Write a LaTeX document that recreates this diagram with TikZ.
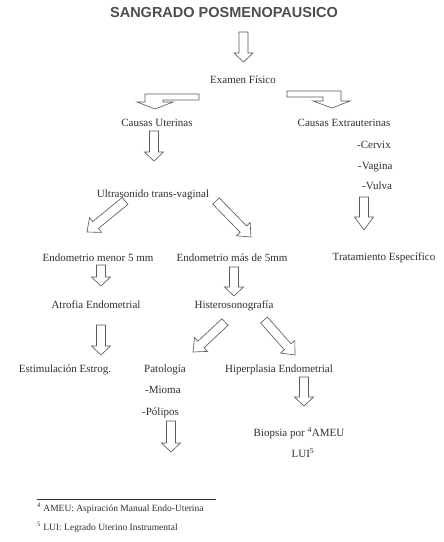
\documentclass[tikz,border=0pt]{standalone}
\usepackage{fontspec}
\setmainfont{Liberation Serif}
\newfontfamily\headfont{Liberation Sans}
\usepackage{tikz}
\usetikzlibrary{
  calc
}
\definecolor{spInk}{HTML}{2E2E2E}
\definecolor{spLine}{HTML}{5C5C5C}
\tikzset{
  sptext/.style={font=\fontsize{11}{13}\selectfont, text=spInk, inner sep=0pt, anchor=base},
  splist/.style={sptext, anchor=base west},
  spnote/.style={font=\fontsize{9.5}{11}\selectfont, text=spInk, inner sep=0pt, anchor=base west},
  sptitle/.style={font=\headfont\bfseries\fontsize{14.5}{16}\selectfont, text=spInk!85, inner sep=0pt, anchor=base},
  hollow/.style={draw=spLine, line width=0.65pt, line join=miter, fill=white},
  rule/.style={draw=spInk, line width=0.8pt}
}
% hollow block arrow from #2 (tail) to #3 (tip), head length #1
\newcommand{\blockarrow}[3][9pt]{%
  \path ($(#3)!#1!(#2)$) coordinate (hb);
  \draw[hollow] ($(#2)!4.5pt!90:(#3)$) -- ($(hb)!4.5pt!90:(#3)$) -- ($(hb)!9.5pt!90:(#3)$)
    -- (#3) -- ($(hb)!9.5pt!-90:(#3)$) -- ($(hb)!4.5pt!-90:(#3)$) -- ($(#2)!4.5pt!-90:(#3)$) -- cycle;
}

\begin{document}
\begin{tikzpicture}[x=1pt, y=-1pt]
  \useasboundingbox (0,0) rectangle (444,542);

  % texts
  \node[sptitle] (title) at (224,17) {SANGRADO POSMENOPAUSICO};
  \node[sptext] (exam) at (243,83) {Examen Físico};
  \node[sptext] (uter) at (157,126) {Causas Uterinas};
  \node[sptext] (extra) at (344,126) {Causas Extrauterinas};
  \node[splist] (cervix) at (357,148) {-Cervix};
  \node[splist] (vagina) at (358,169) {-Vagina};
  \node[splist] (vulva) at (362,189) {-Vulva};
  \node[sptext] (ultra) at (153,197) {Ultrasonido trans-vaginal};
  \node[sptext] (menor) at (98,261) {Endometrio menor 5 mm};
  \node[sptext] (mas) at (232,261) {Endometrio más de 5mm};
  \node[sptext] (trat) at (384,260) {Tratamiento Específico};
  \node[sptext] (atrof) at (96,308) {Atrofia Endometrial};
  \node[sptext] (histero) at (234,308) {Histerosonografía};
  \node[sptext] (estim) at (65,372) {Estimulación Estrog.};
  \node[splist] (patol) at (144,372) {Patología};
  \node[splist] (mioma) at (145,393) {-Mioma};
  \node[splist] (polip) at (142,415) {-Pólipos};
  \node[sptext] (hiper) at (279,372) {Hiperplasia Endometrial};
  \node[sptext] (biop) at (299,436) {Biopsia por \textsuperscript{4}AMEU};
  \node[sptext] (lui) at (303,457) {LUI\textsuperscript{5}};

  % arrow ends
  \coordinate (a1s) at (243.5,32);  \coordinate (a1e) at (243.5,62);
  \coordinate (a2s) at (154,131);   \coordinate (a2e) at (154,161);
  \coordinate (a3s) at (364,197);   \coordinate (a3e) at (364,230);
  \coordinate (a4s) at (125,201);   \coordinate (a4e) at (87,232);
  \coordinate (a5s) at (216,201);   \coordinate (a5e) at (251,237);
  \coordinate (a6s) at (101,265);   \coordinate (a6e) at (101,286);
  \coordinate (a7s) at (234,267);   \coordinate (a7e) at (234,296);
  \coordinate (a8s) at (101,325);   \coordinate (a8e) at (101,355);
  \coordinate (a9s) at (225,322);   \coordinate (a9e) at (193,352);
  \coordinate (a10s) at (264,320);  \coordinate (a10e) at (295,355);
  \coordinate (a11s) at (304,377);  \coordinate (a11e) at (304,406);
  \coordinate (a12s) at (171,421);  \coordinate (a12e) at (171,452);

  \foreach \n in {1,2,6,7,8,11,12}{\blockarrow{a\n s}{a\n e}}
  \foreach \n in {4,5,9,10}{\blockarrow[11pt]{a\n s}{a\n e}}
  \blockarrow[13pt]{a3s}{a3e}

  % bent arrows out of Examen Fisico
  \draw[hollow] (199,94) -- (145,94) -- (145,102) -- (137,102) -- (155,109)
    -- (173,102) -- (163,102) -- (163,100) -- (199,100) -- cycle;
  \draw[hollow] (287,91) -- (341,91) -- (341,101) -- (350,101) -- (332,108)
    -- (313,101) -- (323,101) -- (323,97) -- (287,97) -- cycle;

  % footnotes
  \coordinate (rl) at (37,499);
  \coordinate (rr) at (216,499);
  \draw[rule] (rl) -- (rr);
  \node[spnote] (fn4) at (37,511) {\textsuperscript{4} AMEU: Aspiración Manual Endo-Uterina};
  \node[spnote] (fn5) at (37,530) {\textsuperscript{5} LUI: Legrado Uterino Instrumental};
\end{tikzpicture}
\end{document}
